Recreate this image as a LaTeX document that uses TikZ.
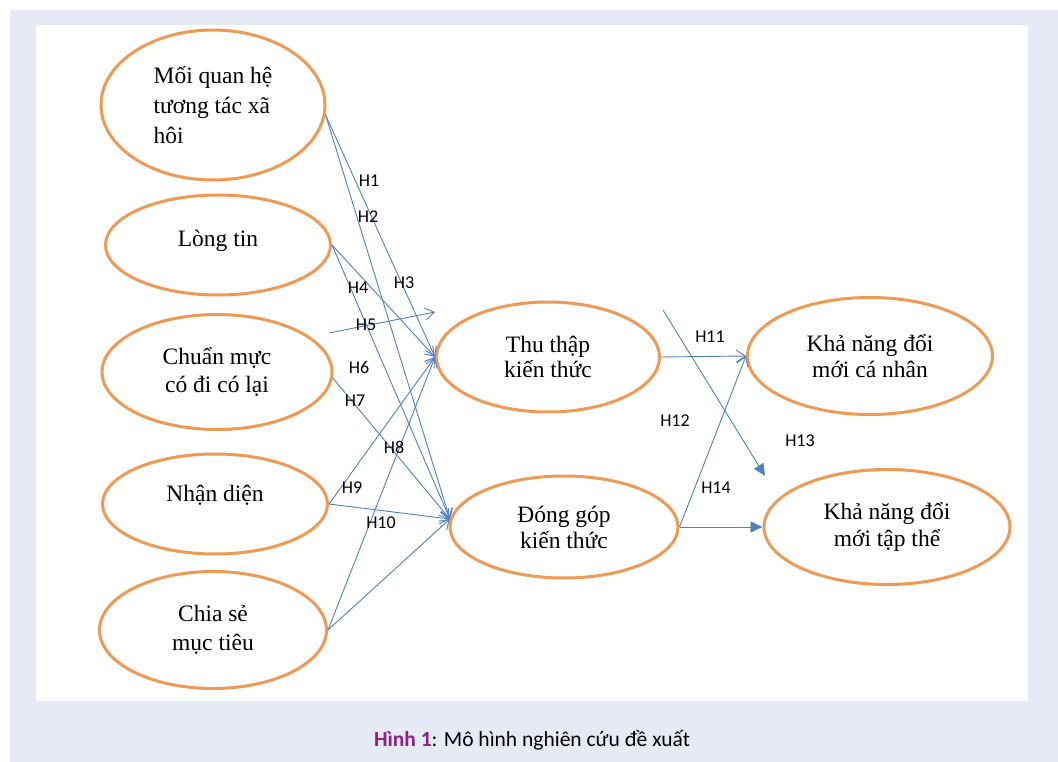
\documentclass[tikz,border=0pt]{standalone}
\usepackage{fontspec}
\setmainfont{Liberation Serif}
\newfontfamily\labfont{Carlito}
\usetikzlibrary{shapes.geometric,arrows.meta}
\definecolor{panel}{HTML}{E6EAF5}
\definecolor{ellorange}{HTML}{EE9A55}
\definecolor{linkblue}{HTML}{4F81BD}
\definecolor{capurple}{HTML}{8E1F8E}
\tikzset{
  ell/.style={ellipse, draw=ellorange, line width=3pt, fill=white, inner sep=0pt, align=center,
    font=\fontsize{23.5}{28}\selectfont},
  link/.style={draw=linkblue, line width=0.9pt, -{Straight Barb[length=9pt,width=12pt,line width=0.9pt]}},
  linkf/.style={draw=linkblue, line width=0.9pt, -{Triangle[length=12pt,width=11pt]}},
  hlab/.style={font=\labfont\fontsize{18}{20}\selectfont, inner sep=0pt},
}
\begin{document}
\begin{tikzpicture}[x=1pt,y=-1pt]
\useasboundingbox (0,0) rectangle (1058,762);
\fill[white] (0,0) rectangle (1058,762);
\fill[panel] (10,10) rectangle (1058,762);
\fill[white] (36,25) rectangle (1028,701);

% left ellipses
\node[ell, minimum width=224pt, minimum height=150pt, align=left, font=\fontsize{23.5}{30}\selectfont] (m1) at (213,105)
  {Mối quan hệ\\tương tác xã\\hôi};
\node[ell, minimum width=225pt, minimum height=100pt, text height=20pt, text depth=17pt] (m2) at (218,245) {Lòng tin};
\node[ell, minimum width=230pt, minimum height=115pt] (m3) at (217,372) {Chuẩn mực\\có đi có lại};
\node[ell, minimum width=225pt, minimum height=100pt, text height=20pt, text depth=25pt] (m4) at (215,504) {Nhận diện};
\node[ell, minimum width=227pt, minimum height=117pt, font=\fontsize{23.5}{29}\selectfont] (m5) at (213,630) {Chia sẻ\\mục tiêu};

% middle
\node[ell, minimum width=223pt, minimum height=110pt, font=\fontsize{23.5}{25}\selectfont] (k1) at (548,357) {Thu thập\\kiến thức};
\node[ell, minimum width=228pt, minimum height=102pt, font=\fontsize{23.5}{26}\selectfont] (k2) at (564,527) {Đóng góp\\kiến thức};

% right
\node[ell, minimum width=245pt, minimum height=117pt, font=\fontsize{23.5}{26.5}\selectfont] (o1) at (870,356) {Khả năng đổi\\mới cá nhân};
\node[ell, minimum width=246pt, minimum height=115pt, font=\fontsize{23.5}{27}\selectfont] (o2) at (887,527) {Khả năng đổi\\mới tập thể};

\coordinate (h5start) at (329,333);
\coordinate (h5end) at (435,312);
\coordinate (h13s) at (663,310);
\coordinate (h13e) at (765,476);

% connectors
\draw[link] (m1.-5) -- (k1.west);
\draw[link] (m1.-5) -- (k2.176);
\draw[link] (m2.east) -- (k1.west);
\draw[link] (m2.east) -- (k2.176);
\draw[link] (h5start) -- (h5end);
\draw[link] (m3.-3) -- (k2.176);
\draw[link] (m4.east) -- (k1.west);
\draw[link] (m4.east) -- (k2.176);
\draw[link] (m5.east) -- (k1.west);
\draw[link] (m5.east) -- (k2.176);

\draw[link] (k1.east) -- (o1.west);
\draw[link] (k2.east) -- (o1.west);
\draw[linkf] (h13s) -- (h13e);
\draw[linkf] (k2.east) -- (o2.west);

% labels
\node[hlab] (l1) at (369,181) {H1};
\node[hlab] (l2) at (368,217) {H2};
\node[hlab] (l3) at (404,283) {H3};
\node[hlab] (l4) at (358,288) {H4};
\node[hlab] (l5) at (366,325) {H5};
\node[hlab] (l6) at (359,367) {H6};
\node[hlab] (l7) at (355,401) {H7};
\node[hlab] (l8) at (394,447) {H8};
\node[hlab] (l9) at (352,488) {H9};
\node[hlab] (l10) at (381,523) {H10};
\node[hlab] (l11) at (710,337) {H11};
\node[hlab] (l12) at (675,421) {H12};
\node[hlab] (l13) at (800,441) {H13};
\node[hlab] (l14) at (716,488) {H14};

% caption
\node[font=\labfont\fontsize{21.5}{24}\selectfont, inner sep=0pt] (cap) at (532,740)
  {\textcolor{capurple}{\bfseries Hình 1}: Mô hình nghiên cứu đề xuất};
\end{tikzpicture}
\end{document}
